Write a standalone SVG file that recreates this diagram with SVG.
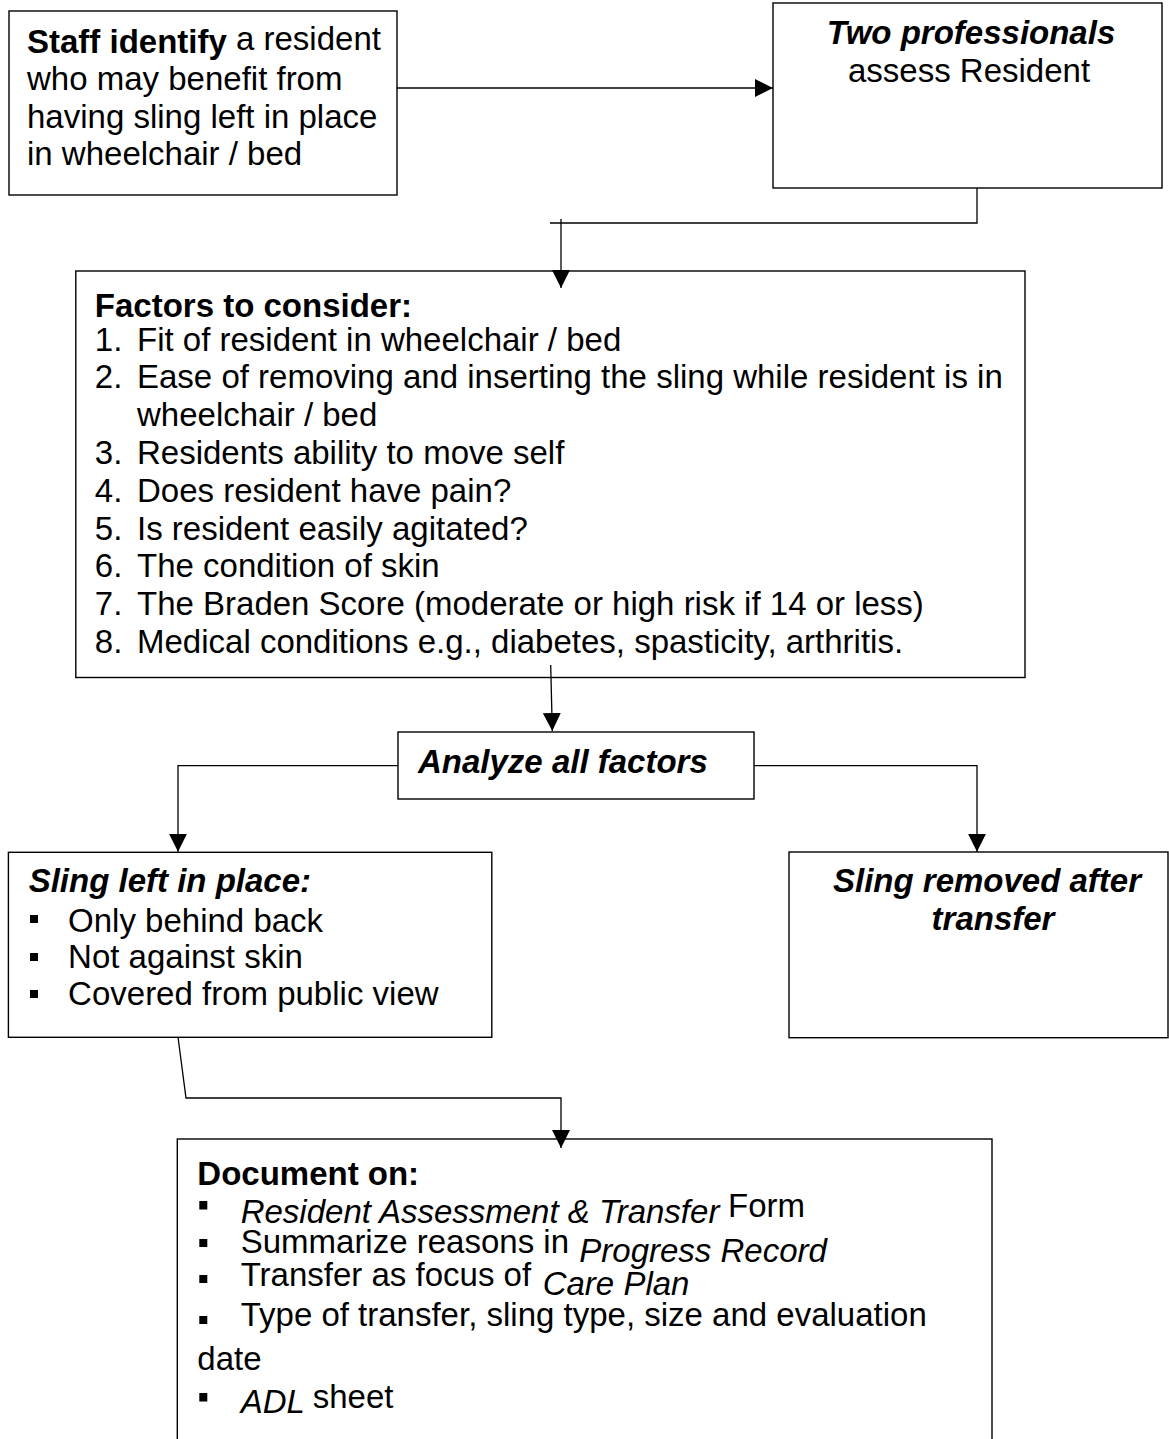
<svg xmlns="http://www.w3.org/2000/svg" width="1169" height="1439" viewBox="0 0 1169 1439">
<style>
.box{fill:#fff;stroke:#000;stroke-width:1.4}
.ln{fill:none;stroke:#000;stroke-width:1.3}
text{font-family:"Liberation Sans",Arial,sans-serif;font-size:33px;fill:#000}
.b{font-weight:bold}
.i{font-style:italic}
.bi{font-weight:bold;font-style:italic}
.blt{fill:#000}
</style>
<defs>
<marker id="ah" markerUnits="userSpaceOnUse" markerWidth="18" markerHeight="18" refX="18" refY="9" orient="auto">
<path d="M0,0 L18,9 L0,18 z" fill="#000"/>
</marker>
</defs>
<rect width="1169" height="1439" fill="#fff"/>

<g id="staff">
<rect class="box" x="9" y="11" width="388" height="184"/>
<text x="27" y="53.3"><tspan class="b">Staff identify</tspan><tspan x="236" y="50">a resident</tspan></text>
<text x="27" y="89.7">who may benefit from</text>
<text x="27" y="127.6">having sling left in place</text>
<text x="27" y="165.4">in wheelchair / bed</text>
</g>

<g id="professionals">
<rect class="box" x="773" y="3" width="389" height="185"/>
<text class="bi" x="971" y="44.3" text-anchor="middle">Two professionals</text>
<text x="969" y="81.7" text-anchor="middle">assess Resident</text>
</g>

<g id="factors">
<rect class="box" x="75.8" y="271" width="949.2" height="406.5"/>
<text class="b" x="94.8" y="316.5">Factors to consider:</text>
<text x="94.8" y="350.5">1.</text><text x="137" y="350.5">Fit of resident in wheelchair / bed</text>
<text x="94.8" y="388.3">2.</text><text x="137" y="388.3">Ease of removing and inserting the sling while resident is in</text>
<text x="137" y="426.1">wheelchair / bed</text>
<text x="94.8" y="463.9">3.</text><text x="137" y="463.9">Residents ability to move self</text>
<text x="94.8" y="501.7">4.</text><text x="137" y="501.7">Does resident have pain?</text>
<text x="94.8" y="539.5">5.</text><text x="137" y="539.5">Is resident easily agitated?</text>
<text x="94.8" y="577.3">6.</text><text x="137" y="577.3">The condition of skin</text>
<text x="94.8" y="615.1">7.</text><text x="137" y="615.1">The Braden Score (moderate or high risk if 14 or less)</text>
<text x="94.8" y="652.9">8.</text><text x="137" y="652.9">Medical conditions e.g., diabetes, spasticity, arthritis.</text>
</g>

<g id="analyze">
<rect class="box" x="398" y="732" width="356" height="67"/>
<text class="bi" x="418" y="773.3">Analyze all factors</text>
</g>

<g id="left-in-place">
<rect class="box" x="8.4" y="852.3" width="483.4" height="185"/>
<text class="bi" x="28.7" y="891.7">Sling left in place:</text>
<rect class="blt" x="30" y="915" width="8" height="8"/>
<text x="68.1" y="931.7">Only behind back</text>
<rect class="blt" x="30" y="953" width="8" height="8"/>
<text x="68.1" y="968.3">Not against skin</text>
<rect class="blt" x="30" y="990" width="8" height="8"/>
<text x="68.1" y="1005">Covered from public view</text>
</g>

<g id="removed">
<rect class="box" x="789" y="852" width="379" height="185.7"/>
<text class="bi" x="987" y="891.7" text-anchor="middle">Sling removed after</text>
<text class="bi" x="993" y="930" text-anchor="middle">transfer</text>
</g>

<g id="document">
<rect class="box" x="177.3" y="1139" width="814.7" height="310"/>
<text class="b" x="197.3" y="1185">Document on:</text>
<rect class="blt" x="199.3" y="1201" width="8" height="8.5"/>
<text x="240.7" y="1222.7"><tspan class="i">Resident Assessment &amp; Transfer</tspan><tspan x="728" y="1217">Form</tspan></text>
<rect class="blt" x="199.3" y="1239" width="8" height="8"/>
<text x="240.7" y="1253.3">Summarize reasons in<tspan class="i" x="579.3" y="1261.7">Progress Record</tspan></text>
<rect class="blt" x="199.3" y="1275" width="8" height="8"/>
<text x="240.7" y="1286">Transfer as focus of<tspan class="i" x="542.7" y="1295">Care Plan</tspan></text>
<rect class="blt" x="199.3" y="1316" width="8" height="8"/>
<text x="240.7" y="1326">Type of transfer, sling type, size and evaluation</text>
<text x="197.3" y="1370">date</text>
<rect class="blt" x="199.3" y="1393" width="8" height="8.5"/>
<text x="240.7" y="1413.3"><tspan class="i">ADL</tspan><tspan x="312.7" y="1408.3">sheet</tspan></text>
</g>

<g id="connectors">
<path class="ln" d="M397,88 L773,88" marker-end="url(#ah)"/>
<path class="ln" d="M977,188 L977,223 L550,223"/>
<path class="ln" d="M561,219 L561,288" marker-end="url(#ah)"/>
<path class="ln" d="M550.7,665 L552.3,731" marker-end="url(#ah)"/>
<path class="ln" d="M398,765.7 L178,765.7 L178,851.7" marker-end="url(#ah)"/>
<path class="ln" d="M754,765.7 L977,765.7 L977,851.7" marker-end="url(#ah)"/>
<path class="ln" d="M178,1037 L186,1098 L561,1098 L561,1148" marker-end="url(#ah)"/>
</g>
</svg>
